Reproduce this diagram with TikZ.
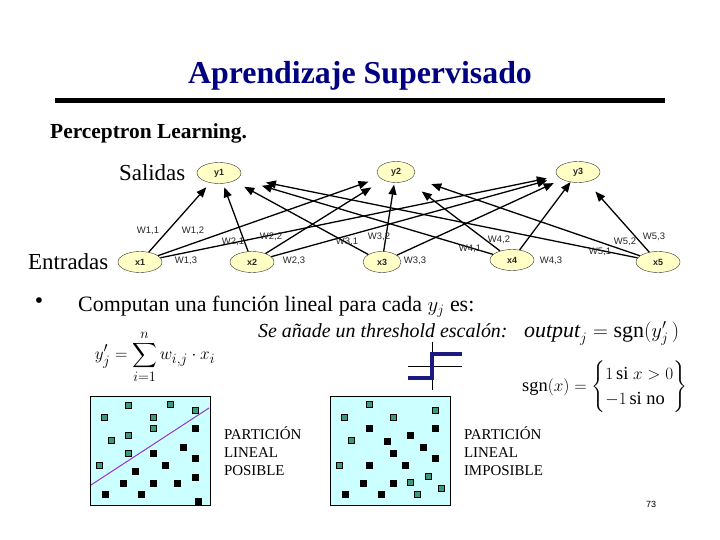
\documentclass[tikz,border=0pt]{standalone}
\usepackage{amsmath}
\usepackage{fontspec}
\setmainfont{Liberation Serif}
\setsansfont{Liberation Sans}
\usetikzlibrary{arrows.meta,positioning,shapes.geometric}
\definecolor{titc}{HTML}{000080}
\definecolor{unitc}{HTML}{FFFFC6}
\definecolor{planec}{HTML}{CCFFFF}
\definecolor{ptc}{HTML}{3A9A7A}
\definecolor{sepc}{HTML}{9933CC}
\definecolor{stepc}{HTML}{1A1A80}
\newcommand{\fsz}[1]{\fontsize{#1}{1.2\dimexpr#1pt\relax}\selectfont}
\tikzset{
  unitnode/.style={draw=black!80, ellipse, fill=unitc, minimum width=44bp, minimum height=21bp, inner sep=0pt, font=\sffamily\bfseries\fsz{9}, text=black!85},
  arr/.style={-{Triangle[length=10bp,width=8bp]}, line width=1.3bp},
  wlab/.style={font=\sffamily\fsz{9.5}, inner sep=0pt, text=black!85},
  gpt/.style={draw=black, fill=ptc, line width=0.6bp},
  bpt/.style={fill=black},
  planebox/.style={draw, fill=planec, line width=0.8bp, minimum width=120bp, minimum height=109bp, anchor=north west},
  partlab/.style={font=\fsz{15}, align=left, inner sep=0pt},
}

\begin{document}
\begin{tikzpicture}[x=1bp, y=-1bp]
  \useasboundingbox (0,0) rectangle (720,540);
  % cabecera
  \node[font=\bfseries\fsz{32}, text=titc, anchor=base] (title) at (360,84) {Aprendizaje Supervisado};
  \draw[line width=5bp] (55,101) -- (665,101);
  \node[font=\bfseries\fsz{21.5}, anchor=base west, inner sep=0pt] (plearn) at (50,139) {Perceptron Learning.};
  % red
  \node[unitnode] (y1) at (219,173) {y1};
  \node[unitnode, minimum width=38bp] (y2) at (396,172) {y2};
  \node[unitnode] (y3) at (578,172) {y3};
  \node[unitnode] (x1) at (140,262) {x1};
  \node[unitnode] (x2) at (252,262) {x2};
  \node[unitnode, minimum width=38bp] (x3) at (382,262) {x3};
  \node[unitnode] (x4) at (512,260) {x4};
  \node[unitnode] (x5) at (658,262) {x5};
  \node[font=\fsz{23}, left=8bp of y1] (sal) {Salidas};
  \node[font=\fsz{23}, left=6bp of x1] (ent) {Entradas};
  \foreach \i/\j/\s in {1/1/6, 2/1/4, 3/1/12, 4/1/25, 5/1/27, 1/2/12, 2/2/14, 3/2/2, 4/2/18, 5/2/20, 1/3/11, 2/3/12, 3/3/9, 4/3/0, 5/3/13}
    \draw[arr, shorten >=\s bp] (x\i) -- (y\j);
  \foreach \a/\b/\x/\y in {1/1/148/231, 1/2/193/231, 1/3/186/261, 2/1/233/242, 2/2/271/237, 2/3/294/261,
                           3/1/347/242, 3/2/379/237, 3/3/415/261, 4/1/470/249, 4/2/499/240, 4/3/551/261,
                           5/1/600/252, 5/2/625/242, 5/3/654/237}
    \node[wlab] (w\a\b) at (\x,\y) {W\a,\b};
  % formulas
  \node[font=\fsz{24}, inner sep=0pt] (bul) at (39,303) {\textbullet};
  \node[font=\fsz{22}, anchor=base west, inner sep=0pt] (comp) at (78,311) {Computan una función lineal para cada $y_j$ es:};
  \node[font=\fsz{19}, inner sep=0pt] (sum) at (155,357) {$\displaystyle y'_j=\sum_{i=1}^{n} w_{i,j}\cdot x_i$};
  \node[font=\itshape\fsz{20}, anchor=base west, inner sep=0pt] (thr) at (258,337) {Se añade un threshold escalón:};
  \node[font=\fsz{22}, anchor=base west, inner sep=0pt] (outp) at (524,337) {$\mathit{output}_j=\mathrm{sgn}(y'_j\,)$};
  \node[font=\fsz{18.5}, anchor=west, inner sep=0pt] (sgn) at (522,387)
    {$\mathrm{sgn}(x)=\left\{\renewcommand{\arraystretch}{1.15}\begin{array}{@{}l@{}}1\,\mathrm{si}\ x>0\\ -1\,\mathrm{si\ no}\end{array}\right\}$};
  % escalon
  \draw[line width=1bp] (432,342) -- (432,390) (408,366) -- (462,366);
  \draw[stepc, line width=4bp] (408,378) -- (432,378) -- (432,354) -- (462,354);
  % particiones
  \node[planebox] (pos) at (90,396) {};
  \node[planebox] (imp) at (330,396) {};
  \draw[sepc, line width=1bp] (91,485) -- (209,408);
  \foreach \x/\y in {128/405, 170/404, 195/410, 104/417, 153/417, 153/428, 128/435, 111/440, 128/453, 99/465}
    \filldraw[gpt] (\x-3,\y-3) rectangle ++(6,6);
  \foreach \x/\y in {195/428, 183/447, 195/458, 153/453, 165/465, 135/471, 195/477, 123/483, 153/483, 177/483, 105/494, 141/494, 198/501}
    \fill[bpt] (\x-3.5,\y-3.5) rectangle ++(7,7);
  \foreach \x/\y in {369/404, 435/410, 344/417, 393/417, 351/440, 339/465, 428/476, 410/482, 441/488, 417/494}
    \filldraw[gpt] (\x-3,\y-3) rectangle ++(6,6);
  \foreach \x/\y in {369/428, 435/428, 410/435, 387/441, 423/447, 393/453, 435/458, 369/465, 405/465, 363/483, 393/483, 345/494, 381/494}
    \fill[bpt] (\x-3.5,\y-3.5) rectangle ++(7,7);
  \node[partlab, right=13bp of pos] (poslab) {PARTICIÓN\\LINEAL\\POSIBLE};
  \node[partlab, right=13bp of imp] (implab) {PARTICIÓN\\LINEAL\\IMPOSIBLE};
  \node[font=\sffamily\fsz{9}] (pgnum) at (651,504) {73};
\end{tikzpicture}
\end{document}
